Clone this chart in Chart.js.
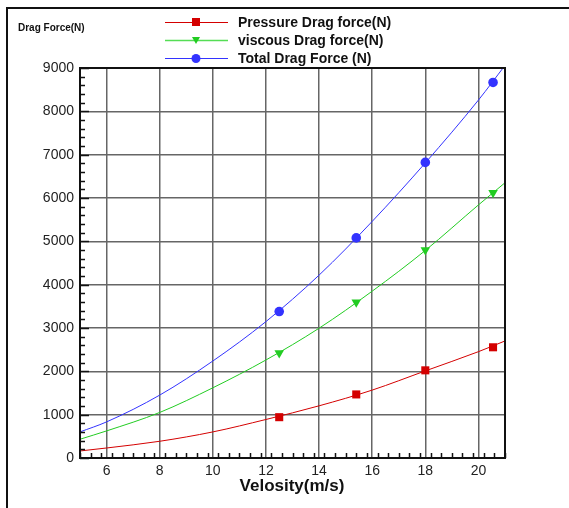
<!DOCTYPE html>
<html>
<head>
<meta charset="utf-8">
<script src="https://cdn.jsdelivr.net/npm/chart.js@4"></script>
<style>
  body { margin: 0; background: #fff; }
  #wrap { width: 569px; height: 508px; }
</style>
</head>
<body>
<div id="wrap"><canvas id="dragChart" width="569" height="508"></canvas></div>
<script>
// fitted curves
const curveX = [5, 6, 8, 10, 12, 14, 16, 18, 20, 21];
const pressureCurve = [162, 231, 386, 602, 889, 1204, 1567, 2010, 2454, 2701];
const viscousCurve = [433, 625, 1051, 1620, 2262, 2995, 3850, 4790, 5840, 6352];
const totalCurve = [602, 833, 1451, 2238, 3148, 4220, 5460, 6810, 8260, 9060];

// measured points (markers)
const velocity = [12.5, 15.4, 18.0, 20.55];
const pressureDrag = [942, 1467, 2023, 2555];
const viscousDrag = [2424, 3597, 4801, 6120];
const totalDrag = [3380, 5079, 6822, 8667];

const xTicks = [6, 8, 10, 12, 14, 16, 18, 20];
const seriesNames = ['Pressure Drag force(N)', 'viscous Drag force(N)', 'Total Drag Force (N)'];

const RED = '#d40000', GREEN = '#22cc22', BLUE = '#3333ff';

const pts = (xs, ys) => xs.map((x, i) => ({ x: x, y: ys[i] }));

function curve(ys, color) {
    return {
        data: pts(curveX, ys),
        borderColor: color,
        borderWidth: 1,
        pointRadius: 0,
        cubicInterpolationMode: 'monotone',
        fill: false
    };
}
function markers(ys, color, style, r, rot) {
    return {
        data: pts(velocity, ys),
        showLine: false,
        pointStyle: style,
        pointRadius: r,
        pointRotation: rot || 0,
        backgroundColor: color,
        borderColor: color,
        borderWidth: 0
    };
}

const frame = {
    id: 'frame',
    afterDraw(chart) {
        const c = chart.ctx, a = chart.chartArea;
        const xs = chart.scales.x, ys = chart.scales.y;
        c.save();
        // outer page lines
        c.strokeStyle = '#111';
        c.lineWidth = 2;
        c.beginPath();
        c.moveTo(7, 508); c.lineTo(7, 8); c.lineTo(569, 8);
        c.stroke();
        // plot box
        c.strokeRect(a.left, a.top, a.right - a.left, a.bottom - a.top);
        // inward ticks
        c.lineWidth = 1.5;
        c.beginPath();
        for (let v = 0; v <= 9000; v += 200) {
            const y = Math.round(ys.getPixelForValue(v)) + 0.5;
            const len = v % 1000 === 0 ? 9 : 5;
            c.moveTo(a.left, y); c.lineTo(a.left + len, y);
        }
        for (let i = 0; i <= 40; i++) {
            const v = 5 + i * 0.4;
            const x = Math.round(xs.getPixelForValue(v)) + 0.5;
            const major = Math.abs((v - 6) / 2 - Math.round((v - 6) / 2)) < 1e-6;
            const len = major ? 9 : 5;
            c.moveTo(x, a.bottom); c.lineTo(x, a.bottom - len);
        }
        c.stroke();
        // titles
        c.fillStyle = '#111';
        c.font = 'bold 10px "Liberation Sans", Arial, sans-serif';
        c.textBaseline = 'middle';
        c.textAlign = 'left';
        c.fillText('Drag Force(N)', 18, 28);
        c.font = 'bold 17px "Liberation Sans", Arial, sans-serif';
        c.textAlign = 'center';
        c.fillText('Velosity(m/s)', 292, 486);
        // legend
        const rows = [22, 40, 58];
        const cols = [RED, '#55dd55', BLUE];
        const mcols = [RED, GREEN, BLUE];
        c.font = 'bold 14px "Liberation Sans", Arial, sans-serif';
        c.textAlign = 'left';
        rows.forEach((y, i) => {
            c.strokeStyle = cols[i];
            c.lineWidth = i === 1 ? 1.5 : 1;
            c.beginPath();
            c.moveTo(165, y + 0.5); c.lineTo(228, y + 0.5);
            c.stroke();
            c.fillStyle = mcols[i];
            c.beginPath();
            if (i === 0) {
                c.rect(192, y - 4, 8, 8);
            } else if (i === 1) {
                c.moveTo(192, y - 3); c.lineTo(200, y - 3); c.lineTo(196, y + 4);
                c.closePath();
            } else {
                c.arc(196, y + 0.5, 4.5, 0, Math.PI * 2);
            }
            c.fill();
            c.fillStyle = '#111';
            c.fillText(seriesNames[i], 238, y + 1);
        });
        c.restore();
    }
};

new Chart(document.getElementById('dragChart'), {
    type: 'line',
    data: {
        datasets: [
            curve(pressureCurve, RED),
            curve(viscousCurve, GREEN),
            curve(totalCurve, BLUE),
            markers(pressureDrag, RED, 'rect', 5.7),
            markers(viscousDrag, GREEN, 'triangle', 5.5, 180),
            markers(totalDrag, BLUE, 'circle', 4.8)
        ]
    },
    options: {
        responsive: false,
        animation: false,
        layout: { padding: { top: 68, right: 64, left: 0, bottom: 0 } },
        plugins: {
            legend: { display: false },
            tooltip: { enabled: false }
        },
        scales: {
            x: {
                type: 'linear',
                min: 5,
                max: 21,
                afterBuildTicks: s => { s.ticks = xTicks.map(v => ({ value: v })); },
                afterFit: s => { s.height = 50; },
                border: { display: false },
                grid: { color: '#666', lineWidth: 1.5, drawTicks: false },
                ticks: {
                    padding: 5,
                    color: '#222',
                    font: { family: '"Liberation Sans", Arial, sans-serif', size: 14 }
                }
            },
            y: {
                min: 0,
                max: 9000,
                afterFit: s => { s.width = 80; },
                border: { display: false },
                grid: { color: '#666', lineWidth: 1.5, drawTicks: false },
                ticks: {
                    stepSize: 1000,
                    padding: 6,
                    color: '#222',
                    callback: v => String(v),
                    font: { family: '"Liberation Sans", Arial, sans-serif', size: 14 }
                }
            }
        }
    },
    plugins: [frame]
});
</script>
</body>
</html>
